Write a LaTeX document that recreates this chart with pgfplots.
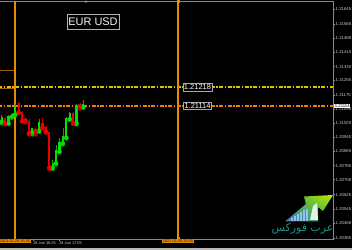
\documentclass[border=0pt]{standalone}
\usepackage{pgfplots}
\pgfplotsset{compat=1.18}
\usepackage{pgfplotstable}
\usetikzlibrary{shadings}
\usepackage{fontspec}
\setmainfont{Liberation Sans}
\newfontfamily\arabicfont[Script=Arabic]{DejaVu Sans}
\TeXXeTstate=1
\definecolor{vline}{RGB}{228,140,10}
\definecolor{yline}{RGB}{215,195,0}
\definecolor{lvlO}{RGB}{240,125,0}
\definecolor{brownl}{RGB}{160,95,20}
\definecolor{candG}{RGB}{0,225,0}
\definecolor{candR}{RGB}{235,0,0}
\definecolor{axgray}{RGB}{135,135,135}
\definecolor{lblgray}{RGB}{205,205,205}
\definecolor{logoT}{RGB}{30,145,135}
\definecolor{logoB}{RGB}{60,120,215}
\definecolor{logoG}{RGB}{50,180,60}
\definecolor{logoY}{RGB}{200,230,0}
\definecolor{logoBar}{RGB}{150,190,240}
% x  open  high  low  close
\pgfplotstableread{
x o h l c
1.7 1.21027 1.21064 1.21018 1.21054
8.5 1.21018 1.21064 1.21014 1.21060
11.9 1.21054 1.21073 1.21049 1.21069
15.3 1.21067 1.21122 1.21064 1.21113
32.3 1.20968 1.20994 1.20957 1.20990
39.1 1.20975 1.21041 1.20972 1.21023
52.7 1.20774 1.20816 1.20766 1.20801
56.1 1.20798 1.20898 1.20792 1.20871
59.5 1.20862 1.20935 1.20858 1.20917
62.9 1.20908 1.20990 1.20902 1.20948
66.3 1.20939 1.21054 1.20935 1.21045
69.7 1.21041 1.21082 1.21036 1.21073
76.5 1.21018 1.21122 1.21012 1.21118
83.3 1.21107 1.21146 1.21104 1.21122
}\greencandles
\pgfplotstableread{
x o h l c
5.1 1.21049 1.21054 1.21012 1.21018
18.7 1.21128 1.21133 1.21073 1.21078
22.1 1.21082 1.21085 1.21027 1.21030
25.5 1.21040 1.21049 1.21023 1.21034
28.9 1.21030 1.21041 1.20957 1.20963
35.7 1.20988 1.20994 1.20957 1.20977
42.5 1.21021 1.21045 1.20990 1.20996
45.9 1.20999 1.21003 1.20966 1.20972
49.3 1.20968 1.20972 1.20766 1.20774
73.1 1.21073 1.21078 1.21014 1.21018
79.9 1.21118 1.21128 1.21100 1.21113
}\redcandles
\pgfplotstableread{
y
1.21218
}\yellowlevel
\pgfplotstableread{
y
1.21114
}\orangelevel
\begin{document}
\begin{tikzpicture}[x=1bp,y=1bp]
\useasboundingbox (0,0) rectangle (352,250);
\fill[black] (0,0) rectangle (352,250);
\fill[gray!55] (0,0) rectangle (352,2.5);
\begin{axis}[
  at={(-2bp,11bp)}, anchor=south west,
  scale only axis, width=335bp, height=238bp,
  xmin=-2, xmax=333, ymin=1.20381, ymax=1.21691,
  clip=false,
  axis line style={axgray, line width=0.8bp},
  tick align=outside, major tick length=2bp,
  tick style={axgray, line width=0.4bp},
  ytick pos=right, yticklabel pos=right,
  ytick={1.21645,1.21565,1.21488,1.21410,1.21330,1.21255,1.21175,1.21098,1.21020,1.20940,1.20865,1.20785,1.20708,1.20625,1.20545,1.20468,1.20385},
  yticklabels={1.21645,1.21565,1.21488,1.21410,1.21330,1.21255,1.21175,1.21098,1.21020,1.20940,1.20865,1.20785,1.20708,1.20625,1.20545,1.20468,1.20385},
  yticklabel style={font=\fontsize{4.3}{5}\selectfont, text=lblgray, inner sep=0.5bp},
  xtick pos=bottom,
  xtick={33,59},
  xticklabels={28 Jan 16:25,28 Jan 17:05},
  xticklabel style={font=\fontsize{3.9}{4.5}\selectfont, text=lblgray, anchor=north west, inner sep=0.6bp, xshift=-0.5bp},
  extra x ticks={15,178},
  extra x tick labels={2021.01.28 15:00,2021.01.28 20:00},
  extra x tick style={major tick length=0pt, xticklabel style={anchor=north, fill=vline, text=black!80!vline, inner sep=0.6bp, xshift=0.5bp}},
]
% left short lines
\addplot[draw=brownl, line width=0.8bp] coordinates {(-2,1.21311) (15,1.21311)};
\addplot[draw=brownl, line width=0.8bp] coordinates {(-2,1.21210) (15,1.21210)};
% horizontal dash-dot levels
\addplot[color=yline, line width=1.3bp, dash pattern=on 4bp off 1.5bp on 1.5bp off 1.5bp] coordinates {(-2,1.21218) (333,1.21218)};
\addplot[color=lvlO, line width=1.4bp, dash pattern=on 4bp off 1.5bp on 1.5bp off 1.5bp] coordinates {(-2,1.21114) (333,1.21114)};
% vertical lines
\addplot[draw=vline, line width=1.3bp] coordinates {(15,1.20381) (15,1.21691)};
\addplot[draw=vline, line width=1.3bp] coordinates {(178,1.20381) (178,1.21691)};
% wicks
\addplot[candG!75!black, only marks, mark=none, error bars/.cd, y dir=plus, y explicit, error mark=none, error bar style={line width=0.7bp}]
  table[x=x, y=l, y error plus expr=\thisrow{h}-\thisrow{l}, y error minus expr=0] {\greencandles};
\addplot[candR!80!black, only marks, mark=none, error bars/.cd, y dir=plus, y explicit, error mark=none, error bar style={line width=0.7bp}]
  table[x=x, y=l, y error plus expr=\thisrow{h}-\thisrow{l}, y error minus expr=0] {\redcandles};
% bodies
\addplot[candG, only marks, mark=none, error bars/.cd, y dir=plus, y explicit, error mark=none, error bar style={line width=2.2bp}]
  table[x=x, y=o, y error plus expr=\thisrow{c}-\thisrow{o}, y error minus expr=0] {\greencandles};
\addplot[candR, only marks, mark=none, error bars/.cd, y dir=plus, y explicit, error mark=none, error bar style={line width=2.2bp}]
  table[x=x, y=c, y error plus expr=\thisrow{o}-\thisrow{c}, y error minus expr=0] {\redcandles};
% labels
\node[draw=gray!70, fill=black, text=white, font=\fontsize{7.5}{8}\selectfont, inner sep=1.2bp, line width=0.5bp] at (axis cs:197.5,1.21218) {1.21218};
\node[draw=gray!70, fill=black, text=white, font=\fontsize{7.5}{8}\selectfont, inner sep=1.2bp, line width=0.5bp] at (axis cs:197.5,1.21114) {1.21114};
\node[fill=white, text=black, font=\fontsize{4.3}{5}\selectfont, inner sep=0.6bp, anchor=west] at (axis cs:334,1.21114) {1.21114};
\end{axis}
% small markers
\fill[yline] (330.5,161.7) rectangle (333,164.2);
\fill[lvlO] (330.5,142.9) rectangle (333,145.4);
\fill[vline] (176.5,246.5) rectangle (179.5,249.5);
\fill[vline] (176.5,11) rectangle (179.5,13.5);
\fill[gray!70] (84.5,249) -- (87.5,249) -- (86,247) -- cycle;
% title
\node[draw=gray!60, fill=black, text=white!92!gray, font=\fontsize{11}{12}\selectfont, inner sep=1.5bp, line width=0.6bp, minimum height=15bp] at (93,228.5) {EUR USD};
% watermark logo
\shade[lower left=logoB, upper right=logoY, lower right=logoG, upper left=logoG]
  (285,28.5) -- (306,46) -- (304,53.5) -- (333,55) -- (323,39) -- (318,43) -- (318,28.5) -- cycle;
\foreach \bx/\bh in {291/3,294/5,297/7,300/9,303/11,306/12}
  \fill[logoBar] (\bx,28.5) rectangle ++(1.5,\bh);
\fill[white!85!logoG] (310,30) -- (313,44) -- (317,47) -- (318,30) -- cycle;
\node[text=logoT, font=\arabicfont\fontsize{11}{12}\selectfont, inner sep=0pt] at (302.5,21.5) {\beginR عرب فوركس\endR};
\end{tikzpicture}
\end{document}
